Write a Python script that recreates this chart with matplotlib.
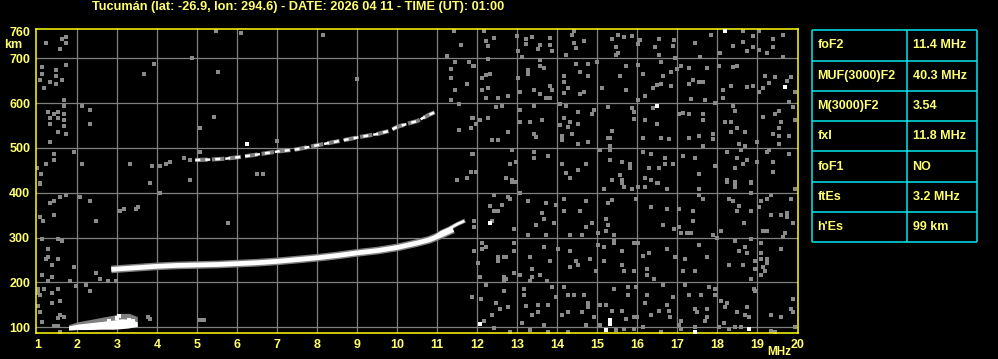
import matplotlib.pyplot as plt

# ionogram traces (frequency MHz, virtual height km)
f_trace = [2.85, 3.0, 3.5, 4.0, 4.5, 5.0, 5.5, 6.0, 6.5, 7.0, 7.5, 8.0, 8.5, 9.0,
           9.5, 10.0, 10.5, 10.8, 11.0, 11.2, 11.4]
h_trace = [229, 230, 233, 236, 238, 239, 240, 242, 244, 247, 251, 255, 260, 266,
           271, 278, 288, 295, 302, 310, 318]
f_xmode = [10.9, 11.1, 11.3, 11.5, 11.65]
h_xmode = [300, 312, 320, 330, 336]
f_hop2 = [4.95, 5.3, 5.7, 6.0, 6.4, 7.0, 7.5, 8.0, 8.7, 9.1, 9.5, 9.8, 10.0, 10.3,
          10.5, 10.8, 11.0]
h_hop2 = [473, 474, 476, 479, 484, 492, 497, 506, 518, 525, 531, 538, 547, 555,
          560, 574, 582]
f_es = [1.78, 2.0, 2.3, 2.6, 2.9, 3.1, 3.3, 3.5]
h_es_low = [94, 95, 95, 96, 96, 97, 99, 102]
h_es_high = [103, 107, 110, 113, 116, 119, 118, 112]
h_es_halo = [106, 112, 117, 122, 127, 131, 131, 124]

# scattered echoes / noise
noise_f = [1.23, 1.63, 1.73, 1.73, 1.58, 1.73, 1.13, 1.48, 1.13, 1.48, 1.08, 1.33, 1.63, 1.48,
           1.18, 1.68, 1.68, 1.28, 1.53, 1.43, 1.68, 1.33, 1.53, 1.68, 1.33, 1.68, 1.53, 1.73,
           1.33, 2.13, 2.33, 2.33, 1.93, 1.43, 1.43, 1.23, 2.13, 3.33, 3.93, 3.68, 4.88, 5.53,
           5.48, 5.43, 5.08, 5.08, 4.68, 4.83, 3.88, 4.08, 4.23, 4.33, 3.83, 4.83, 1.10, 1.08,
           1.0,
           1.08, 1.73, 1.58, 1.43, 1.33, 2.08, 2.33, 1.08, 1.43, 1.15, 2.48, 3.08, 3.18, 3.53,
           3.48, 4.08, 5.78, 1.13, 1.53, 1.63, 1.28, 1.28, 1.23, 1.53, 1.38, 1.93, 1.13, 1.38,
           1.28, 1.83, 2.48, 2.58, 2.78, 2.98, 1.03, 1.18, 1.53, 1.03, 1.38, 1.08, 2.33, 2.23,
           1.98, 1.58, 1.38, 1.03, 1.08, 1.58, 1.68, 1.53, 1.13, 1.43, 1.53, 1.58, 5.08, 5.18,
           3.78, 3.83,
           6.09, 8.14, 8.99, 11.41, 11.59, 11.24, 11.44, 11.79, 11.34, 11.34, 11.74, 11.44,
           11.34, 11.54, 11.89, 11.89, 11.54, 11.84, 11.89, 11.84, 11.74, 11.49, 6.49, 6.64,
           7.0,
           12.18, 12.43, 12.23, 12.28, 13.0, 13.23, 13.38, 13.23, 13.58, 13.53, 13.83, 13.83,
           13.88, 13.03, 13.13, 14.43, 14.38, 14.68, 14.43, 14.48, 14.23, 15.38, 15.53, 15.68,
           15.88, 15.48, 15.53, 15.48, 16.03, 11.93, 12.28, 12.13, 12.23, 12.33, 12.28, 12.13,
           12.23, 12.53, 12.78, 13.03, 13.28, 13.28, 13.58, 13.58, 13.68, 13.43, 13.58, 13.83,
           13.88, 13.73, 13.83, 13.08, 14.18, 14.18, 14.28, 14.18, 14.58, 14.48, 14.78, 14.78,
           14.58, 14.68, 15.0, 15.13, 15.58, 15.73, 15.73, 16.03, 11.88, 11.98, 12.08, 12.28,
           12.48, 12.63, 12.78, 12.38, 12.53, 13.08, 13.08, 13.33, 13.43, 13.63, 13.43, 13.48,
           14.08, 14.23, 14.08, 14.18, 14.28, 14.33, 14.53, 14.53, 14.13, 14.13, 14.38, 14.53,
           14.78, 14.88, 14.93, 15.28, 15.38, 15.28, 15.33, 15.33, 15.88, 15.93, 15.93, 11.88,
           11.98, 12.88, 12.83, 12.98, 12.73, 12.88, 13.43, 13.43, 13.78, 14.13, 14.23, 14.53,
           14.73, 14.33, 15.08, 15.33, 15.33, 15.63, 15.83, 15.83, 15.58, 15.38, 15.63,
           16.08, 16.03, 16.54, 16.91, 16.89, 16.44, 16.54, 16.59, 16.03, 16.94, 17.44, 17.84,
           17.56, 18.06, 18.39, 18.64, 18.64, 18.74, 18.89, 18.89, 19.04, 19.04, 19.24, 19.39,
           19.39, 19.64, 19.64, 16.14, 16.39, 16.49, 16.59, 16.64, 16.84, 16.84, 16.99, 17.09,
           17.29, 17.39, 17.29, 17.54, 17.64, 17.34, 17.69, 17.74, 18.04, 17.94, 18.14, 18.14,
           18.34, 18.39, 18.49, 18.74, 18.89, 19.04, 19.14, 19.19, 19.29, 19.44, 19.74, 19.84,
           19.94, 19.79, 16.19, 16.39, 16.19, 16.49, 16.14, 16.59, 16.79, 17.04, 17.14, 17.29,
           17.64, 17.64, 17.29, 17.54, 17.64, 17.89, 17.89, 18.39, 18.44, 18.19, 18.34, 18.49,
           18.34, 18.69, 18.54, 18.69, 18.99, 19.14, 19.44, 19.54, 19.59, 19.54, 19.39, 19.54,
           19.54, 19.79, 19.94, 19.89, 16.14, 16.34, 16.69, 16.69, 16.89, 16.29, 16.54, 16.19,
           16.34, 16.49, 17.14, 17.44, 17.54, 17.94, 18.24, 18.49, 18.59, 18.74, 18.64, 18.44,
           18.24, 18.44, 18.84, 18.99, 19.24, 19.29, 19.39, 19.39, 19.79,
           12.88, 12.98, 13.08, 12.43, 12.78, 12.83, 12.63, 12.33, 12.43, 12.53, 12.38, 11.93,
           11.93, 12.93, 13.28, 13.73, 13.63, 13.98, 14.18, 14.73, 14.18, 14.58, 13.48, 13.68,
           13.93, 13.28, 13.73, 14.33, 14.63, 14.73, 14.88, 15.03, 15.23, 15.28, 15.23, 15.43,
           15.28, 15.38, 15.18, 15.63, 15.68, 15.88, 15.98, 12.13, 12.13, 12.23, 11.93, 12.53,
           12.68, 12.73, 12.93, 12.93, 12.53, 12.03, 12.93, 12.68, 12.68, 12.73, 13.33, 13.38,
           13.83, 13.58, 13.68, 14.03, 14.33, 14.48, 14.53, 14.33, 14.83, 14.98, 15.03, 15.18,
           15.18, 15.43, 15.43, 15.63, 15.63, 15.68, 15.93, 15.93, 12.08, 13.38, 13.33, 13.08,
           13.75, 11.88, 12.1, 12.23, 12.68, 13.18, 13.18, 13.23, 13.53, 13.53, 13.38, 13.78,
           13.88, 13.98, 14.18, 14.28, 14.43, 14.68, 14.78, 14.78, 14.13, 14.28, 14.63, 14.93,
           15.08, 15.23, 15.38, 15.43, 15.78, 15.78, 15.98, 15.73, 15.93, 15.63, 12.18, 12.38,
           12.58, 12.78, 12.48, 13.13, 13.68, 13.33, 13.78, 14.28, 14.73, 15.08, 15.48, 15.68,
           15.93, 12.43, 12.83,
           16.03, 16.19, 16.51, 16.74, 17.54, 17.54, 17.64, 18.24, 18.44, 18.44, 18.84, 18.84,
           19.34, 19.94, 16.34, 16.74, 17.04, 17.39, 17.39, 16.64, 16.91, 17.04, 17.09, 17.24,
           17.34, 17.89, 17.99, 18.09, 18.29, 18.39, 18.54, 18.49, 18.84, 18.66, 19.04, 19.09,
           19.24, 19.34, 19.59, 19.74, 19.84, 19.74, 19.89, 19.14, 19.24, 19.69, 19.64, 16.01,
           16.14, 16.29, 16.74, 16.94, 17.19, 17.74, 17.54, 18.44, 18.69, 18.54, 18.74, 18.84,
           19.09, 19.59, 19.09, 19.09, 19.24, 19.24, 19.14, 19.19, 19.09, 18.94, 18.94, 18.84,
           18.64, 18.29, 17.44, 17.14, 16.24, 16.24, 16.41, 16.64, 17.19, 16.24, 16.19, 16.34,
           16.54, 16.74, 16.79, 16.81, 16.89, 17.09, 17.04, 17.29, 17.59, 17.79, 17.94, 17.94,
           17.44, 17.49, 17.74, 17.74, 17.69, 18.09, 18.24, 18.19, 18.18, 18.49, 18.69, 18.74,
           18.79, 18.91, 18.94, 18.44, 18.59, 19.34, 19.59, 19.84, 19.89, 19.89, 19.94, 16.14,
           15.99, 16.59, 17.09, 17.44, 18.04, 18.29, 19.34, 19.44]
noise_h = [734, 742, 747, 733, 720, 686, 680, 674, 664, 660, 652, 647, 652, 643,
           634, 607, 594, 580, 580, 576, 576, 567, 567, 562, 554, 549, 536, 531,
           513, 594, 585, 554, 491, 487, 473, 464, 464, 464, 687, 666, 701, 669,
           761, 569, 545, 491, 478, 473, 460, 460, 464, 469, 422, 428, 442, 420,
           455,
           421, 395, 391, 382, 378, 391, 382, 346, 351, 338, 338, 360, 363, 369,
           364, 400, 333, 297, 297, 293, 275, 257, 253, 253, 240, 235, 217, 213,
           204, 204, 222, 208, 204, 204, 186, 186, 186, 177, 177, 173, 182, 195,
           192, 159, 155, 147, 134, 128, 124, 121, 112, 103, 103, 90, 116, 116,
           122, 118,
           757, 751, 654, 760, 729, 706, 692, 692, 677, 656, 643, 629,
           608, 597, 683, 567, 540, 545, 487, 447, 433, 429, 442, 442,
           515,
           761, 745, 738, 727, 750, 743, 747, 732, 729, 720, 745, 729,
           716, 716, 703, 761, 752, 738, 734, 724, 707, 743, 752, 747,
           749, 725, 712, 707, 732, 683, 698, 656, 663, 665, 634, 629,
           611, 611, 616, 656, 674, 665, 696, 683, 678, 629, 620, 638,
           629, 611, 611, 625, 660, 647, 634, 623, 669, 687, 687, 660,
           620, 625, 692, 634, 660, 683, 629, 607, 567, 553, 562, 567,
           591, 594, 536, 518, 518, 585, 558, 558, 594, 562, 531, 525,
           598, 594, 551, 567, 547, 558, 553, 580, 527, 518, 531, 509,
           513, 576, 585, 591, 538, 522, 522, 505, 589, 580, 565, 487,
           447, 496, 464, 469, 433, 429, 491, 478, 482, 464, 444, 451,
           464, 433, 496, 496, 473, 469, 464, 455, 439, 429, 429,
           741, 732, 743, 741, 727, 725, 707, 692, 684, 701, 734, 752,
           703, 712, 727, 761, 736, 716, 749, 725, 761, 718, 712, 743,
           725, 752, 703, 665, 634, 640, 643, 660, 638, 669, 676, 683,
           678, 652, 643, 647, 647, 609, 607, 678, 683, 600, 629, 611,
           638, 680, 683, 636, 638, 625, 634, 660, 645, 658, 649, 658,
           625, 603, 616, 589, 562, 554, 522, 522, 520, 576, 578, 576,
           576, 562, 522, 527, 505, 531, 520, 594, 582, 558, 558, 545,
           536, 536, 509, 505, 513, 569, 576, 582, 558, 545, 531, 527,
           509, 527, 562, 591, 491, 487, 478, 464, 464, 455, 455, 433,
           429, 422, 482, 478, 442, 460, 491, 478, 496, 473, 464, 455,
           429, 424, 424, 469, 491, 496, 469, 447, 487,
           425, 425, 400, 395, 391, 387, 373, 371, 360, 360, 338, 338,
           324, 320, 382, 378, 355, 373, 387, 382, 360, 360, 329, 342,
           333, 306, 306, 306, 306, 324, 333, 311, 342, 329, 315, 306,
           378, 384, 409, 422, 413, 409, 387, 289, 275, 280, 271, 257,
           257, 257, 289, 271, 248, 244, 222, 213, 204, 208, 257, 231,
           248, 217, 280, 275, 271, 248, 239, 235, 253, 226, 284, 280,
           248, 293, 289, 271, 239, 226, 289, 226, 213, 213, 204, 217,
           204, 168, 164, 195, 182, 186, 173, 147, 150, 133, 128, 150,
           190, 168, 190, 173, 173, 173, 155, 146, 128, 133, 133, 124,
           150, 150, 137, 186, 173, 190, 190, 119, 124, 137, 115, 128,
           141, 146, 155, 109, 104, 93, 90, 90, 104, 104, 93, 97,
           97, 98, 90,
           413, 413, 422, 409, 409, 395, 387, 425, 422, 413, 422, 400,
           395, 409, 369, 364, 364, 360, 338, 329, 320, 324, 311, 311,
           311, 306, 299, 315, 387, 382, 371, 360, 360, 333, 369, 382,
           387, 351, 351, 355, 387, 346, 333, 315, 315, 311, 302, 289,
           259, 266, 275, 257, 253, 257, 284, 293, 280, 271, 266, 297,
           289, 275, 266, 253, 253, 244, 235, 226, 217, 248, 231, 208,
           239, 239, 226, 226, 231, 217, 208, 195, 195, 173, 155, 128,
           137, 150, 137, 124, 168, 115, 106, 173, 173, 190, 186, 173,
           141, 133, 141, 124, 115, 159, 155, 146, 110, 133, 128, 146,
           124, 186, 182, 101, 101, 128, 124, 141, 133, 164, 101, 101,
           124, 90, 97, 101, 101, 97, 92, 90]
white_f = [6.24, 12.33, 16.49, 19.69, 18.19, 15.33, 15.33, 15.23, 12.08, 18.79, 17.44, 3.0, 3.05,
           2.8, 3.3, 3.4]
white_h = [509, 333, 594, 637, 761, 117, 107, 95, 108, 97, 90, 121, 126,
           113, 117, 114]

x_ticks = list(range(1, 21))
y_ticks = [100, 200, 300, 400, 500, 600, 700, 760]
grid_f = list(range(2, 20))
grid_h = [100, 200, 300, 400, 500, 600, 700]

title = "Tucumán (lat: -26.9, lon: 294.6) - DATE: 2026 04 11 - TIME (UT): 01:00"
param_names = ["foF2", "MUF(3000)F2", "M(3000)F2", "fxI", "foF1", "ftEs", "h'Es"]
param_values = ["11.4 MHz", "40.3 MHz", "3.54", "11.8 MHz", "NO", "3.2 MHz", "99 km"]

txt_col = '#ffff70'
gray = '#808080'

plt.rcParams['font.family'] = ['Liberation Sans', 'DejaVu Sans']
plt.rcParams['font.weight'] = 'bold'

fig = plt.figure(figsize=(9.98, 3.59), dpi=100, facecolor='black')
ax = fig.add_axes([35.7/998, 1 - 333.3/359, (798.3 - 35.7)/998, (333.3 - 29.3)/359])
ax.set_facecolor('black')
ax.set_xlim(0.96, 20.03)
ax.set_ylim(86.6, 764.6)

for f in grid_f:
    ax.axvline(f, color=gray, lw=0.9, zorder=1)
for h in grid_h:
    ax.axhline(h, color=gray, lw=0.9, zorder=1)

ax.scatter(noise_f, noise_h, s=5.5, marker='s', color='#8a8a8a', linewidths=0, zorder=2)

# Es layer
ax.fill_between(f_es, h_es_low, h_es_halo, color=gray, lw=0, zorder=3)
ax.fill_between(f_es, h_es_low, h_es_high, color='white', lw=0, zorder=4)

# F layer traces
ax.plot(f_trace, h_trace, color=gray, lw=5.5, solid_capstyle='butt', zorder=3)
ax.plot(f_trace, h_trace, color='white', lw=3.4, solid_capstyle='butt', zorder=4)
ax.plot(f_xmode, h_xmode, color=gray, lw=3, zorder=3)
ax.plot(f_xmode, h_xmode, color='white', lw=1.8, zorder=4)
ax.plot(f_hop2, h_hop2, color=gray, lw=3.0, dashes=(3, 1), zorder=3)
ax.plot(f_hop2, h_hop2, color='white', lw=1.8, dashes=(2, 2), zorder=4)

ax.scatter(white_f, white_h, s=5, marker='s', color='white', linewidths=0, zorder=5)

for sp in ax.spines.values():
    sp.set_color('#ffff00')
    sp.set_linewidth(1.1)

ax.set_xticks(x_ticks)
ax.set_yticks(y_ticks)
ax.tick_params(length=0, colors=txt_col, labelsize=9, pad=4)
for lab in ax.get_xticklabels() + ax.get_yticklabels():
    lab.set_fontweight('bold')

fig.text(22/998, 1 - 45/359, "km", color=txt_col, fontsize=9, ha='right', va='center')
fig.text(779/998, 1 - 352/359, "MHz", color=txt_col, fontsize=8.5, ha='center', va='center')
fig.text(92/998, 1 - 7/359, title, color=txt_col, fontsize=9.2, ha='left', va='center')

# parameter table
tab = fig.add_axes([812.3/998, 1 - 242.3/359, 165/998, 212/359])
tab.set_xlim(0, 1)
tab.set_ylim(7, 0)
tab.axis('off')
cyan = '#00e8f0'
tab.hlines(range(8), 0, 1, color=cyan, lw=1.1, clip_on=False)
tab.vlines([0, 0.576, 1], 0, 7, color=cyan, lw=1.1, clip_on=False)
for i, (name, val) in enumerate(zip(param_names, param_values)):
    tab.text(0.03, i + 0.5, name, color=txt_col, fontsize=9, va='center', ha='left')
    tab.text(0.608, i + 0.5, val, color=txt_col, fontsize=9, va='center', ha='left')

fig.savefig('out.png', dpi=100, facecolor='black')
